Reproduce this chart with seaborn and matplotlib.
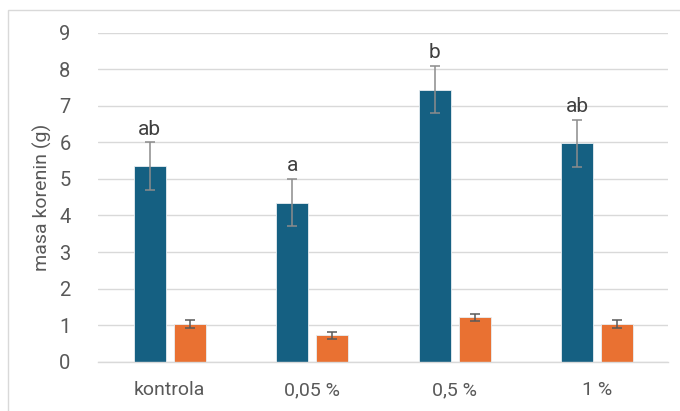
import matplotlib
matplotlib.use("Agg")
import matplotlib.pyplot as plt
from matplotlib.patches import Rectangle
import seaborn as sns
import pandas as pd

# Data
categories = ["kontrola", "0,05 %", "0,5 %", "1 %"]
series_names = ["serija 1", "serija 2"]
values_1 = [5.35, 4.35, 7.44, 5.97]
errors_1 = [0.65, 0.65, 0.65, 0.65]
values_2 = [1.04, 0.72, 1.21, 1.04]
errors_2 = [0.11, 0.10, 0.10, 0.11]
letters = ["ab", "a", "b", "ab"]
y_ticks = [0, 1, 2, 3, 4, 5, 6, 7, 8, 9]
y_label = "masa korenin (g)"

df = pd.DataFrame({
    "kategorija": categories * 2,
    "serija": [series_names[0]] * len(categories) + [series_names[1]] * len(categories),
    "vrednost": values_1 + values_2,
})

sns.set_theme(style="white")
plt.rcParams["font.family"] = ["Roboto", "DejaVu Sans"]

FS = 14

fig = plt.figure(figsize=(6.8, 4.11), dpi=100)
ax = fig.add_axes([0.1446, 0.12, 0.8384, 0.8004])

palette = {series_names[0]: "#156082", series_names[1]: "#E97132"}
sns.barplot(data=df, x="kategorija", y="vrednost", hue="serija",
            order=categories, hue_order=series_names, palette=palette,
            width=0.56, gap=0.2, errorbar=None, legend=False,
            edgecolor="#e8eef2", linewidth=0.6, saturation=1, ax=ax)

# error bars at the bar centres
bars = list(ax.patches)
n = len(categories)
bars_1, bars_2 = bars[:n], bars[n:]
x1 = [b.get_x() + b.get_width() / 2 for b in bars_1]
x2 = [b.get_x() + b.get_width() / 2 for b in bars_2]
ax.errorbar(x1, values_1, yerr=errors_1, fmt="none", ecolor="#8c8c8c",
            elinewidth=1.1, capsize=3.4, capthick=1.1, zorder=5)
ax.errorbar(x2, values_2, yerr=errors_2, fmt="none", ecolor="#5a5a5a",
            elinewidth=1.1, capsize=3.4, capthick=1.1, zorder=5)

# significance letters above the first series
for x, v, e, t in zip(x1, values_1, errors_1, letters):
    ax.text(x, v + e + 0.1, t, ha="center", va="bottom",
            fontsize=15, color="#404040")

ax.set_ylim(0, 9)
ax.set_xlim(-0.5, n - 0.5)
ax.set_yticks(y_ticks)
ax.set_yticklabels([str(t) for t in y_ticks])
ax.yaxis.grid(True, color="#d9d9d9", linewidth=1.0)
ax.set_axisbelow(True)
for s in ["top", "right", "left"]:
    ax.spines[s].set_visible(False)
ax.spines["bottom"].set_color("#d9d9d9")
ax.spines["bottom"].set_linewidth(1.0)
ax.tick_params(axis="both", length=0, labelsize=FS, labelcolor="#595959")
ax.tick_params(axis="y", labelsize=14.5, pad=20)
ax.tick_params(axis="x", pad=14)
ax.set_xlabel("")
ax.set_ylabel(y_label, fontsize=FS, color="#595959")
ax.yaxis.set_label_coords(-0.081, 0.5)

# chart-area frame
fig.patches.append(Rectangle((8 / 680, -0.1), 1.1, 1.1 - 10 / 411,
                             transform=fig.transFigure, fill=False,
                             edgecolor="#d9d9d9", linewidth=1.0))

fig.savefig("out.png", dpi=100)
